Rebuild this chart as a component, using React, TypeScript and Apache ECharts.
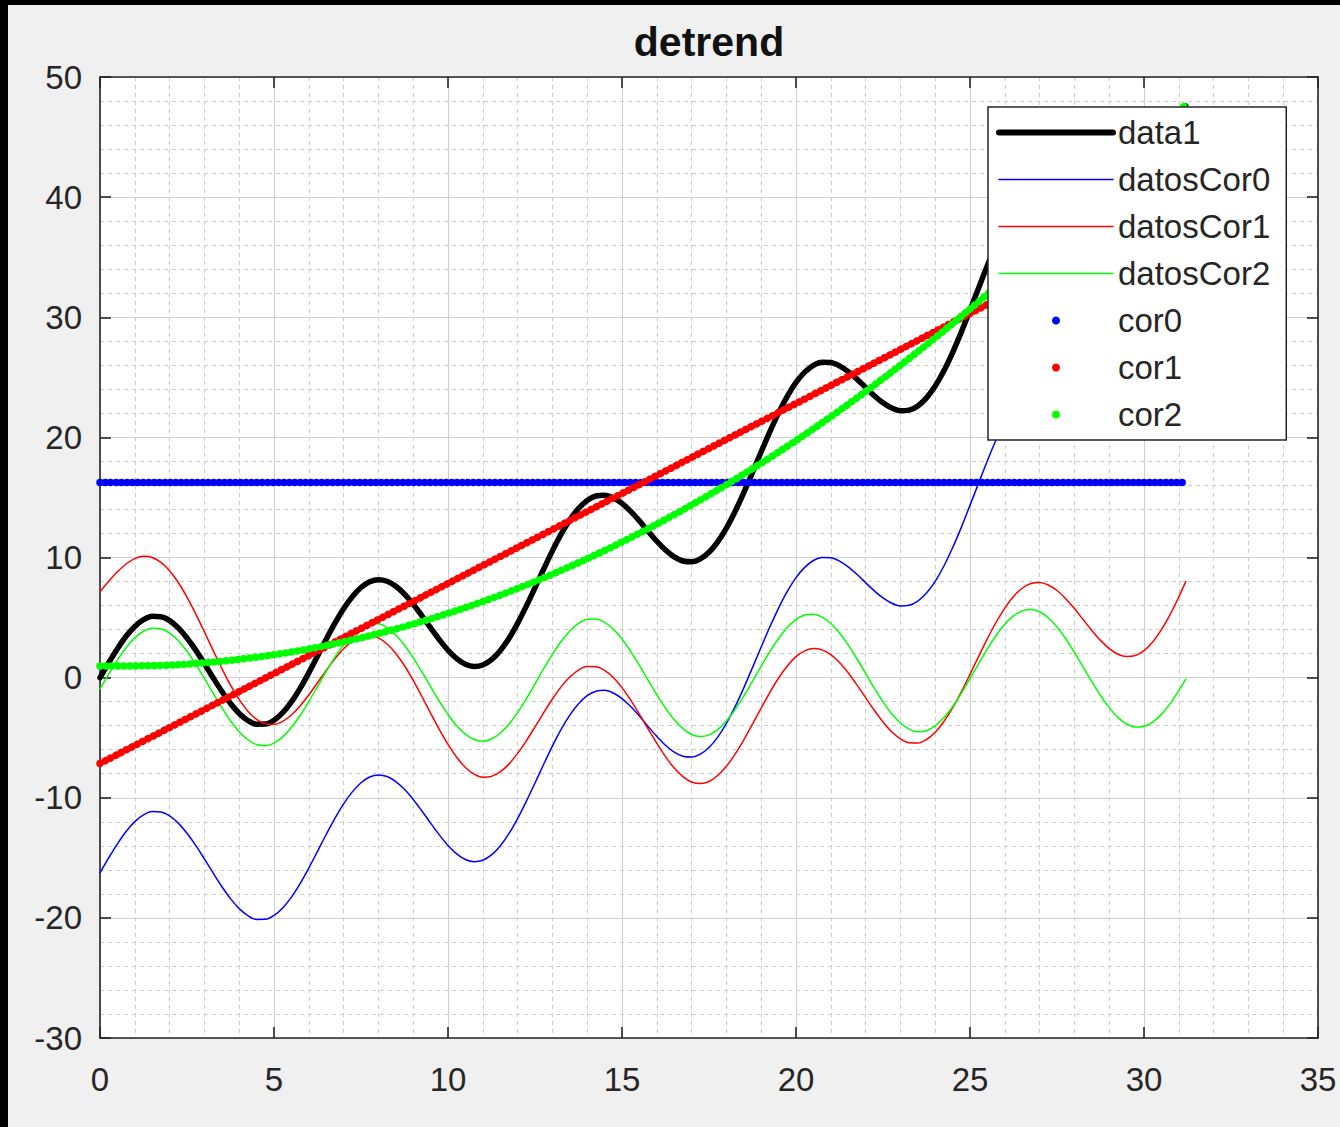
import React, { useEffect, useRef } from "react";
import * as echarts from "echarts";

// x positions of the plotted curves (one row per unit of x)
const xs = [
  0, 0.25, 0.5, 0.75,
  1, 1.25, 1.5, 1.75,
  2, 2.25, 2.5, 2.75,
  3, 3.25, 3.5, 3.75,
  4, 4.25, 4.5, 4.75,
  5, 5.25, 5.5, 5.75,
  6, 6.25, 6.5, 6.75,
  7, 7.25, 7.5, 7.75,
  8, 8.25, 8.5, 8.75,
  9, 9.25, 9.5, 9.75,
  10, 10.25, 10.5, 10.75,
  11, 11.25, 11.5, 11.75,
  12, 12.25, 12.5, 12.75,
  13, 13.25, 13.5, 13.75,
  14, 14.25, 14.5, 14.75,
  15, 15.25, 15.5, 15.75,
  16, 16.25, 16.5, 16.75,
  17, 17.25, 17.5, 17.75,
  18, 18.25, 18.5, 18.75,
  19, 19.25, 19.5, 19.75,
  20, 20.25, 20.5, 20.75,
  21, 21.25, 21.5, 21.75,
  22, 22.25, 22.5, 22.75,
  23, 23.25, 23.5, 23.75,
  24, 24.25, 24.5, 24.75,
  25, 25.25, 25.5, 25.75,
  26, 26.25, 26.5, 26.75,
  27, 27.25, 27.5, 27.75,
  28, 28.25, 28.5, 28.75,
  29, 29.25, 29.5, 29.75,
  30, 30.25, 30.5, 30.75,
  31, 31.2,
];

const data1 = [
  0.0, 1.24, 2.41, 3.44,
  4.26, 4.82, 5.1, 5.07,
  4.75, 4.14, 3.3, 2.29,
  1.16, -0.01, -1.14, -2.15,
  -2.98, -3.57, -3.88, -3.87,
  -3.55, -2.92, -2.02, -0.89,
  0.4, 1.79, 3.19, 4.53,
  5.74, 6.74, 7.5, 7.98,
  8.15, 8.02, 7.6, 6.95,
  6.11, 5.15, 4.14, 3.16,
  2.28, 1.58, 1.11, 0.93,
  1.05, 1.49, 2.24, 3.26,
  4.52, 5.95, 7.48, 9.04,
  10.55, 11.94, 13.13, 14.08,
  14.75, 15.12, 15.19, 14.97,
  14.5, 13.84, 13.05, 12.19,
  11.36, 10.62, 10.05, 9.71,
  9.64, 9.88, 10.43, 11.3,
  12.45, 13.83, 15.4, 17.08,
  18.8, 20.48, 22.04, 23.42,
  24.57, 25.43, 26.0, 26.26,
  26.23, 25.95, 25.47, 24.85,
  24.16, 23.47, 22.88, 22.44,
  22.22, 22.27, 22.62, 23.29,
  24.27, 25.54, 27.06, 28.76,
  30.59, 32.46, 34.31, 36.05,
  37.61, 38.95, 40.01, 40.77,
  41.23, 41.4, 41.31, 41.01,
  40.56, 40.03, 39.49, 39.04,
  38.73, 38.64, 38.81, 39.28,
  40.06, 41.16, 42.55, 44.19,
  46.03, 47.6,
];

const datosCor0 = [
  -16.25, -15.01, -13.84, -12.81,
  -11.99, -11.43, -11.15, -11.18,
  -11.5, -12.11, -12.95, -13.96,
  -15.09, -16.26, -17.39, -18.4,
  -19.23, -19.82, -20.13, -20.12,
  -19.8, -19.17, -18.27, -17.14,
  -15.85, -14.46, -13.06, -11.72,
  -10.51, -9.51, -8.75, -8.27,
  -8.1, -8.23, -8.65, -9.3,
  -10.14, -11.1, -12.11, -13.09,
  -13.97, -14.67, -15.14, -15.32,
  -15.2, -14.76, -14.01, -12.99,
  -11.73, -10.3, -8.77, -7.21,
  -5.7, -4.31, -3.12, -2.17,
  -1.5, -1.13, -1.06, -1.28,
  -1.75, -2.41, -3.2, -4.06,
  -4.89, -5.63, -6.2, -6.54,
  -6.61, -6.37, -5.82, -4.95,
  -3.8, -2.42, -0.85, 0.83,
  2.55, 4.23, 5.79, 7.17,
  8.32, 9.18, 9.75, 10.01,
  9.98, 9.7, 9.22, 8.6,
  7.91, 7.22, 6.63, 6.19,
  5.97, 6.02, 6.37, 7.04,
  8.02, 9.29, 10.81, 12.51,
  14.34, 16.21, 18.06, 19.8,
  21.36, 22.7, 23.76, 24.52,
  24.98, 25.15, 25.06, 24.76,
  24.31, 23.78, 23.24, 22.79,
  22.48, 22.39, 22.56, 23.03,
  23.81, 24.91, 26.3, 27.94,
  29.78, 31.35,
];

const datosCor1 = [
  7.15, 8.02, 8.81, 9.46,
  9.91, 10.1, 10.0, 9.6,
  8.9, 7.92, 6.7, 5.31,
  3.81, 2.27, 0.77, -0.63,
  -1.83, -2.79, -3.47, -3.84,
  -3.89, -3.64, -3.11, -2.36,
  -1.44, -0.43, 0.6, 1.56,
  2.4, 3.03, 3.41, 3.51,
  3.31, 2.8, 2.01, 0.99,
  -0.23, -1.57, -2.95, -4.31,
  -5.56, -6.63, -7.48, -8.03,
  -8.29, -8.22, -7.85, -7.2,
  -6.31, -5.26, -4.1, -2.92,
  -1.78, -0.77, 0.05, 0.63,
  0.92, 0.91, 0.61, 0.01,
  -0.83, -1.87, -3.03, -4.26,
  -5.47, -6.58, -7.53, -8.24,
  -8.69, -8.82, -8.65, -8.15,
  -7.38, -6.37, -5.18, -3.87,
  -2.53, -1.22, -0.03, 0.97,
  1.75, 2.23, 2.43, 2.31,
  1.91, 1.26, 0.4, -0.6,
  -1.66, -2.72, -3.69, -4.51,
  -5.1, -5.43, -5.45, -5.15,
  -4.55, -3.65, -2.51, -1.18,
  0.27, 1.77, 3.24, 4.61,
  5.79, 6.76, 7.44, 7.83,
  7.92, 7.71, 7.25, 6.57,
  5.75, 4.84, 3.93, 3.1,
  2.42, 1.95, 1.75, 1.84,
  2.25, 2.97, 3.99, 5.25,
  6.72, 7.99,
];

const datosCor2 = [
  -0.96, 0.29, 1.47, 2.49,
  3.31, 3.86, 4.12, 4.07,
  3.71, 3.07, 2.19, 1.12,
  -0.07, -1.3, -2.5, -3.59,
  -4.5, -5.17, -5.57, -5.67,
  -5.45, -4.93, -4.15, -3.15,
  -1.99, -0.74, 0.51, 1.7,
  2.75, 3.6, 4.19, 4.49,
  4.48, 4.16, 3.55, 2.7,
  1.65, 0.48, -0.75, -1.96,
  -3.07, -4.01, -4.71, -5.15,
  -5.29, -5.11, -4.63, -3.88,
  -2.91, -1.77, -0.53, 0.74,
  1.94, 3.01, 3.89, 4.51,
  4.85, 4.88, 4.6, 4.03,
  3.21, 2.19, 1.02, -0.21,
  -1.42, -2.54, -3.51, -4.25,
  -4.73, -4.9, -4.77, -4.33,
  -3.61, -2.66, -1.54, -0.31,
  0.95, 2.17, 3.26, 4.17,
  4.83, 5.21, 5.28, 5.04,
  4.51, 3.72, 2.72, 1.57,
  0.35, -0.88, -2.02, -3.01,
  -3.78, -4.29, -4.51, -4.42,
  -4.02, -3.34, -2.42, -1.31,
  -0.09, 1.17, 2.4, 3.51,
  4.45, 5.14, 5.56, 5.68,
  5.48, 4.98, 4.22, 3.24,
  2.11, 0.89, -0.33, -1.49,
  -2.5, -3.31, -3.86, -4.11,
  -4.06, -3.7, -3.06, -2.16,
  -1.08, -0.12,
];

// x positions of the fitted trends (drawn as dotted markers)
const fitX = [0, 2, 4, 6, 8, 10, 12, 14, 16, 18, 20, 22, 24, 26, 28, 30, 31.2];
const cor0 = [
  16.25, 16.25, 16.25, 16.25, 16.25, 16.25, 16.25, 16.25, 16.25,
  16.25, 16.25, 16.25, 16.25, 16.25, 16.25, 16.25, 16.25,
];
const cor1 = [
  -7.15, -4.15, -1.16, 1.84, 4.84, 7.84, 10.83, 13.83, 16.83,
  19.83, 22.82, 25.82, 28.82, 31.82, 34.81, 37.81, 39.61,
];
const cor2 = [
  0.96, 1.04, 1.52, 2.39, 3.67, 5.35, 7.42, 9.9, 12.78,
  16.06, 19.73, 23.81, 28.29, 33.17, 38.44, 44.12, 47.72,
];

const FONT = "'Liberation Sans', Arial, Helvetica, sans-serif";
const TXT = "#262626";

export default function App() {
  const ref = useRef<HTMLDivElement>(null);

  useEffect(() => {
    const chart = echarts.init(ref.current!, null, { renderer: "svg" });

    const axisLine = { show: true, onZero: false, lineStyle: { color: TXT, width: 1.6 } };
    const axisTick = { show: true, inside: true, length: 11, lineStyle: { color: TXT, width: 1.6 } };
    const major = { show: true, lineStyle: { color: "#cfcfcf", width: 1 } };
    const minor = { show: true, lineStyle: { color: "#cdcdcd", width: 1, type: [4, 4] } };

    const lineSeries = (name: string, ys: number[], color: string, width: number) => ({
      name,
      type: "line",
      data: xs.map((x, i) => [x, ys[i]]),
      symbol: "none",
      showSymbol: false,
      smooth: 0.33,
      lineStyle: { color, width, cap: "round", join: "round" },
      itemStyle: { color },
      emphasis: { disabled: true },
      silent: true,
    });

    const dotSeries = (name: string, ys: number[], color: string, gap: number) => ({
      name,
      type: "line",
      data: fitX.map((x, i) => [x, ys[i]]),
      symbol: "none",
      showSymbol: false,
      smooth: 0.33,
      clip: false,
      lineStyle: { color, width: 7.5, type: [0.01, gap], cap: "round" },
      itemStyle: { color },
      emphasis: { disabled: true },
      silent: true,
    });

    chart.setOption({
      animation: false,
      backgroundColor: "#f0f0f0",
      title: {
        text: "detrend",
        left: 709,
        top: 21,
        textAlign: "center",
        padding: 0,
        textStyle: { fontSize: 41, fontWeight: "bold", color: "#111", fontFamily: FONT },
      },
      graphic: [
        { type: "rect", shape: { x: 0, y: 0, width: 1340, height: 5 }, style: { fill: "#000" }, silent: true },
        { type: "rect", shape: { x: 0, y: 0, width: 8, height: 1127 }, style: { fill: "#000" }, silent: true },
      ],
      grid: {
        left: 100,
        right: 22,
        top: 77,
        bottom: 89,
        show: true,
        backgroundColor: "#ffffff",
        borderWidth: 0,
      },
      legend: {
        orient: "vertical",
        left: 988,
        top: 107,
        padding: [9, 16, 9, 8],
        itemWidth: 114,
        itemHeight: 8,
        itemGap: 14,
        selectedMode: false,
        backgroundColor: "#ffffff",
        borderColor: TXT,
        borderWidth: 1.5,
        borderRadius: 0,
        textStyle: { fontSize: 33, lineHeight: 33, color: TXT, fontFamily: FONT },
        data: [
          { name: "data1", itemStyle: { opacity: 0 }, lineStyle: { width: 6 } },
          { name: "datosCor0", itemStyle: { opacity: 0 }, lineStyle: { width: 1.5 } },
          { name: "datosCor1", itemStyle: { opacity: 0 }, lineStyle: { width: 1.5 } },
          { name: "datosCor2", itemStyle: { opacity: 0 }, lineStyle: { width: 1.5 } },
          { name: "cor0", icon: "circle", itemStyle: { borderWidth: 0 } },
          { name: "cor1", icon: "circle", itemStyle: { borderWidth: 0 } },
          { name: "cor2", icon: "circle", itemStyle: { borderWidth: 0 } },
        ],
      },
      xAxis: [
        {
          type: "value",
          position: "bottom",
          min: 0,
          max: 35,
          interval: 5,
          axisLine,
          axisTick,
          axisLabel: { fontSize: 33, color: TXT, fontFamily: FONT, margin: 25 },
          splitLine: major,
          minorTick: { show: false, splitNumber: 5 },
          minorSplitLine: minor,
        },
        {
          type: "value",
          position: "top",
          min: 0,
          max: 35,
          interval: 5,
          axisLine,
          axisTick,
          axisLabel: { show: false },
          splitLine: { show: false },
        },
      ],
      yAxis: [
        {
          type: "value",
          position: "left",
          min: -30,
          max: 50,
          interval: 10,
          axisLine,
          axisTick,
          axisLabel: { fontSize: 33, color: TXT, fontFamily: FONT, margin: 18 },
          splitLine: major,
          minorTick: { show: false, splitNumber: 5 },
          minorSplitLine: minor,
        },
        {
          type: "value",
          position: "right",
          min: -30,
          max: 50,
          interval: 10,
          axisLine,
          axisTick,
          axisLabel: { show: false },
          splitLine: { show: false },
        },
      ],
      series: [
        lineSeries("data1", data1, "#000000", 5.5),
        lineSeries("datosCor0", datosCor0, "#0000ff", 1.5),
        lineSeries("datosCor1", datosCor1, "#ff0000", 1.5),
        lineSeries("datosCor2", datosCor2, "#00ff00", 1.5),
        dotSeries("cor0", cor0, "#0000ff", 5.4),
        dotSeries("cor1", cor1, "#ff0000", 6.0),
        dotSeries("cor2", cor2, "#00ff00", 6.0),
      ],
    });

    return () => chart.dispose();
  }, []);

  return (
    <div
      ref={ref}
      style={{ position: "absolute", left: 0, top: 0, width: 1340, height: 1127 }}
    />
  );
}
